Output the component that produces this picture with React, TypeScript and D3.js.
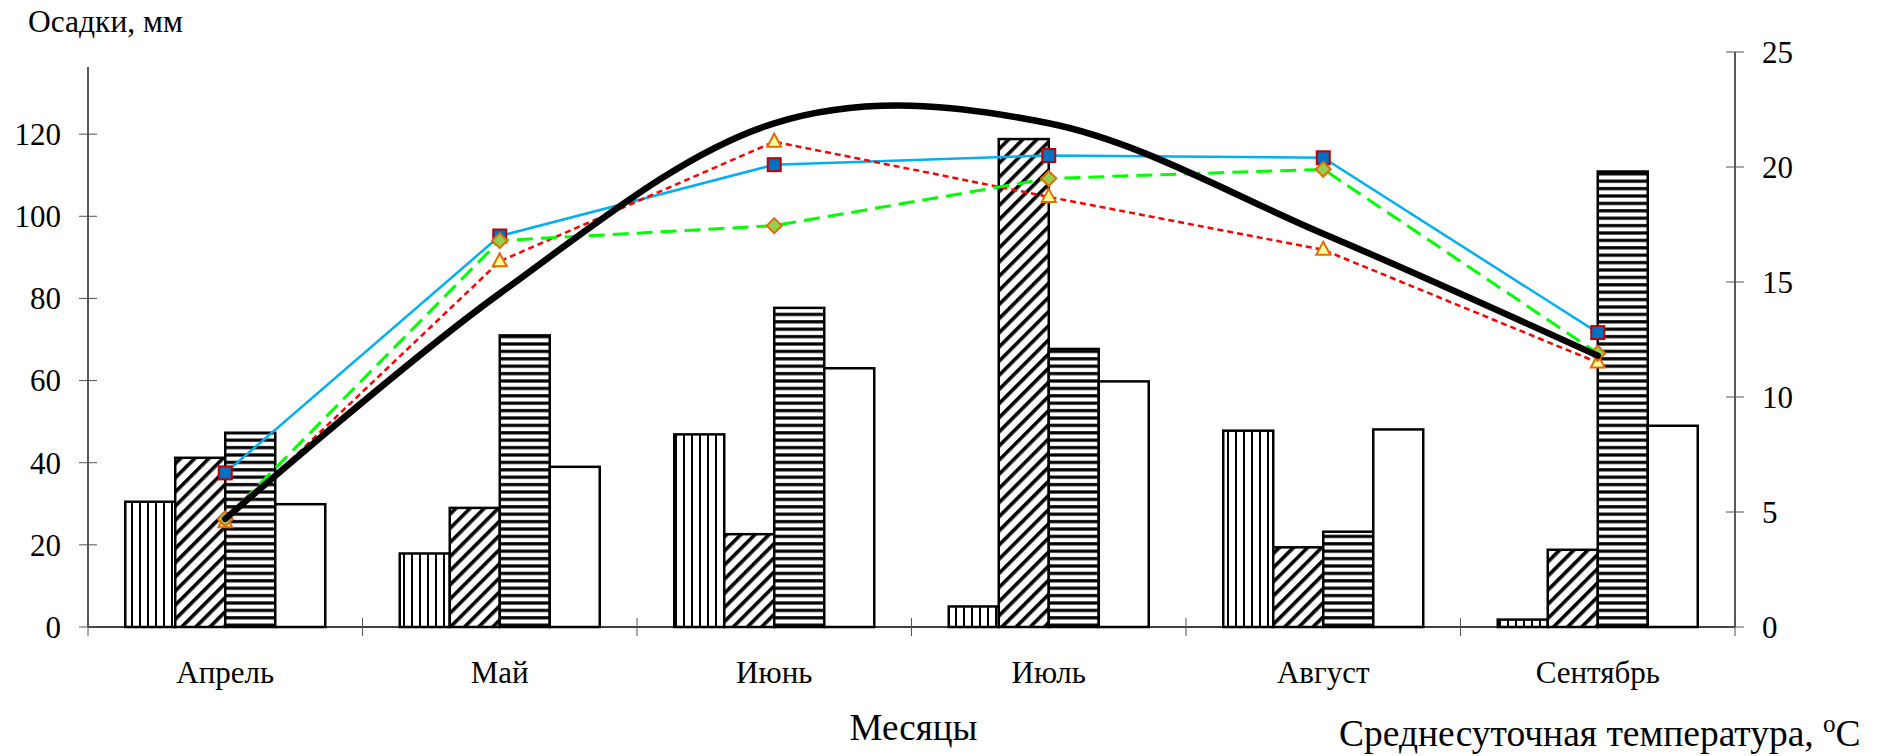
import React from "react";
import * as d3 from "d3";

const months = ["Апрель", "Май", "Июнь", "Июль", "Август", "Сентябрь"];
const barSeries = ["s1", "s2", "s3", "s4"];
const precip1 = [30.5, 17.9, 46.9, 5.0, 47.8, 1.8];
const precip2 = [41.2, 29.0, 22.6, 118.8, 19.4, 18.8];
const precip3 = [47.3, 71.0, 77.7, 67.7, 23.2, 110.9];
const precip4 = [29.9, 39.0, 63.0, 59.8, 48.1, 49.0];
const tempBlue = [6.7, 17.0, 20.1, 20.5, 20.4, 12.8];
const tempRed = [4.55, 15.9, 21.1, 18.7, 16.4, 11.5];
const tempGreen = [4.7, 16.8, 17.45, 19.5, 19.9, 11.9];
const tempBlack = [4.7, 14.5, 21.9, 21.9, 17.1, 11.8];
const leftTicks = [0, 20, 40, 60, 80, 100, 120];
const rightTicks = [0, 5, 10, 15, 20, 25];

const W = 1883;
const H = 756;
const X0 = 88;
const X1 = 1735;
const Y0 = 627;
const YTOP = 52;
const FONT = "'Liberation Serif', 'Times New Roman', serif";

export default function App() {
  const x = d3.scaleBand<string>().domain(months).range([X0, X1]).padding(0);
  const bw = x.bandwidth();
  const inner = d3
    .scaleBand<string>()
    .domain(barSeries)
    .range([bw * 0.1357, bw * 0.1357 + 200 * (bw / 274.5)])
    .padding(0);
  const yL = d3.scaleLinear().domain([0, 140]).range([Y0, YTOP]);
  const yR = d3.scaleLinear().domain([0, 25]).range([Y0, YTOP]);
  const cx = (m: string) => (x(m) as number) + bw / 2;

  const precip = [precip1, precip2, precip3, precip4];
  const fills = ["url(#pVert)", "url(#pDiag)", "url(#pHoriz)", "#fff"];

  const line = d3
    .line<number>()
    .x((_, i) => cx(months[i]))
    .y((d) => yR(d));
  const smooth = d3
    .line<number>()
    .x((_, i) => cx(months[i]))
    .y((d) => yR(d))
    .curve(d3.curveCardinal.tension(0));

  return (
    <svg
      width={W}
      height={H}
      style={{ display: "block", background: "#fff", position: "absolute", left: 0, top: 0 }}
      fontFamily={FONT}
    >
      <defs>
        <pattern id="pVert" width={8} height={8} patternUnits="userSpaceOnUse">
          <rect width={8} height={8} fill="#fff" />
          <rect x={3} y={0} width={2} height={8} fill="#000" />
        </pattern>
        <pattern id="pDiag" width={10} height={10} patternUnits="userSpaceOnUse" patternTransform="rotate(45)">
          <rect width={10} height={10} fill="#fff" />
          <rect x={0} y={0} width={3.6} height={10} fill="#000" />
        </pattern>
        <pattern id="pHoriz" width={7.4} height={7.4} patternUnits="userSpaceOnUse">
          <rect width={7.4} height={7.4} fill="#fff" />
          <rect x={0} y={2} width={7.4} height={3.2} fill="#000" />
        </pattern>
      </defs>

      {/* bars */}
      {months.map((m, i) => (
        <g key={m}>
          {barSeries.map((s, j) => {
            const v = precip[j][i];
            const bx = (x(m) as number) + (inner(s) as number);
            return (
              <rect
                key={s}
                x={bx}
                y={yL(v)}
                width={inner.bandwidth()}
                height={Y0 - yL(v)}
                fill={fills[j]}
                stroke="#000"
                strokeWidth={2.5}
              />
            );
          })}
        </g>
      ))}

      {/* axes */}
      <line x1={X0} x2={X0} y1={67} y2={Y0} stroke="#000" strokeWidth={1.3} />
      <line x1={X1} x2={X1} y1={YTOP} y2={Y0} stroke="#000" strokeWidth={1.3} />
      <line x1={X0} x2={X1} y1={Y0} y2={Y0} stroke="#000" strokeWidth={1.3} />
      {leftTicks.map((t) => (
        <g key={"l" + t}>
          <line x1={X0 - 9} x2={X0 + 9} y1={yL(t)} y2={yL(t)} stroke="#555" strokeWidth={1} />
          <text x={61} y={yL(t)} dy="0.35em" textAnchor="end" fontSize={31}>
            {t}
          </text>
        </g>
      ))}
      {rightTicks.map((t) => (
        <g key={"r" + t}>
          <line x1={X1 - 9} x2={X1 + 9} y1={yR(t)} y2={yR(t)} stroke="#555" strokeWidth={1} />
          <text x={1762} y={yR(t)} dy="0.35em" textAnchor="start" fontSize={31}>
            {t}
          </text>
        </g>
      ))}
      {d3.range(months.length + 1).map((i) => {
        const tx = i < months.length ? (x(months[i]) as number) : X1;
        return <line key={"x" + i} x1={tx} x2={tx} y1={Y0 - 9} y2={Y0 + 9} stroke="#555" strokeWidth={1} />;
      })}
      {months.map((m) => (
        <text key={"ml" + m} x={cx(m)} y={683} textAnchor="middle" fontSize={31}>
          {m}
        </text>
      ))}

      {/* titles */}
      <text x={28} y={32} fontSize={31.5}>
        Осадки, мм
      </text>
      <text x={(X0 + X1) / 2 + 2} y={740} textAnchor="middle" fontSize={37}>
        Месяцы
      </text>
      <text x={1339} y={746} fontSize={37.5}>
        Среднесуточная температура,{" "}
        <tspan fontSize={25} dy={-14}>o</tspan>
        <tspan dy={14}>C</tspan>
      </text>

      {/* lines */}
      <path d={line(tempBlue) || ""} fill="none" stroke="#00B0F0" strokeWidth={2.5} />
      {tempBlue.map((v, i) => (
        <rect
          key={"b" + i}
          x={cx(months[i]) - 6.5}
          y={yR(v) - 6.5}
          width={13}
          height={13}
          fill="#0070C0"
          stroke="#C00000"
          strokeWidth={2}
        />
      ))}
      <path d={line(tempRed) || ""} fill="none" stroke="#FF0000" strokeWidth={2.5} strokeDasharray="6,4" />
      {tempRed.map((v, i) => {
        const px = cx(months[i]);
        const py = yR(v);
        return (
          <path
            key={"t" + i}
            d={`M${px},${py - 8}L${px + 7},${py + 5}L${px - 7},${py + 5}Z`}
            fill="#FFFF99"
            stroke="#E36C09"
            strokeWidth={2}
          />
        );
      })}
      <path d={line(tempGreen) || ""} fill="none" stroke="#00FF00" strokeWidth={3} strokeDasharray="16,8" />
      {tempGreen.map((v, i) => {
        const px = cx(months[i]);
        const py = yR(v);
        return (
          <path
            key={"d" + i}
            d={`M${px},${py - 7.5}L${px + 7.5},${py}L${px},${py + 7.5}L${px - 7.5},${py}Z`}
            fill="#92D050"
            stroke="#E36C09"
            strokeWidth={2}
          />
        );
      })}
      <path d={smooth(tempBlack) || ""} fill="none" stroke="#000" strokeWidth={6.5} strokeLinecap="round" />
    </svg>
  );
}
